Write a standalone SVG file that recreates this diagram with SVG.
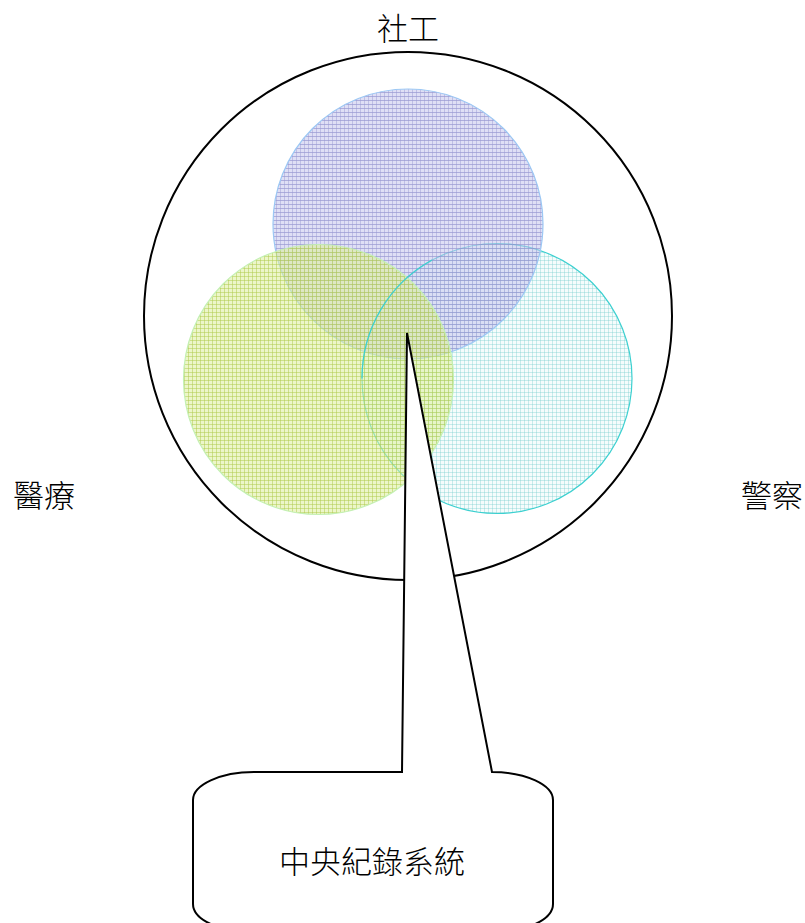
<svg xmlns="http://www.w3.org/2000/svg" width="805" height="923" viewBox="0 0 805 923">
<style>
.lbl{font-family:"Noto Sans CJK TC","Noto Sans CJK SC",sans-serif;font-size:31px;font-weight:300;fill:#000;}
.outline{fill:none;stroke:#000;stroke-width:2;}
</style>
<defs>
<pattern id="pBlue" width="4" height="4" patternUnits="userSpaceOnUse">
<rect width="4" height="4" fill="#c4c4ec" fill-opacity="0.55"/>
<rect width="4" height="1" fill="#7c7cc4" fill-opacity="0.5"/>
<rect width="1" height="4" fill="#9a9ad4" fill-opacity="0.45"/>
</pattern>
<pattern id="pGreen" width="4" height="4" patternUnits="userSpaceOnUse">
<rect width="4" height="4" fill="#dcee9c" fill-opacity="0.55"/>
<rect width="4" height="1" fill="#b0cc4c" fill-opacity="0.5"/>
<rect width="1" height="4" fill="#b0cc4c" fill-opacity="0.5"/>
</pattern>
<pattern id="pCyan" width="4" height="4" patternUnits="userSpaceOnUse">
<rect width="4" height="4" fill="#e0f8f8" fill-opacity="0.3"/>
<rect width="4" height="1" fill="#70cccc" fill-opacity="0.35"/>
<rect width="1" height="4" fill="#70cccc" fill-opacity="0.35"/>
</pattern>
</defs>
<rect width="805" height="923" fill="#fff"/>
<g id="outer">
<circle cx="408" cy="316" r="264" class="outline"/>
</g>
<g id="police">
<circle cx="497" cy="378.5" r="135" fill="url(#pCyan)" stroke="#3cd0d0" stroke-width="1.2"/>
</g>
<g id="social">
<circle cx="408" cy="224" r="135" fill="url(#pBlue)" stroke="#9cc8f4" stroke-width="1.2"/>
</g>
<g id="medical">
<circle cx="318.5" cy="379.5" r="135" fill="url(#pGreen)" stroke="#c4f0b4" stroke-width="1.2"/>
</g>
<path d="M 362,378.5 A 135,135 0 0 1 432,260" fill="none" stroke="#3cd0d0" stroke-width="1.2"/>
<g id="central">
<path d="M 254,772 H 402 L 407,333 L 492,772 C 526,772 553,785 553,800 V 904 C 553,920 526,932 492,932 H 254 C 220,932 193,920 193,904 V 800 C 193,785 220,772 254,772 Z" fill="#fff" stroke="#000" stroke-width="2" stroke-linejoin="miter"/>
<text class="lbl" x="372" y="873" text-anchor="middle">中央紀錄系統</text>
</g>
<g id="labels">
<text class="lbl" x="408" y="40" text-anchor="middle">社工</text>
<text class="lbl" x="44" y="507" text-anchor="middle">醫療</text>
<text class="lbl" x="772" y="507" text-anchor="middle">警察</text>
</g>
</svg>
